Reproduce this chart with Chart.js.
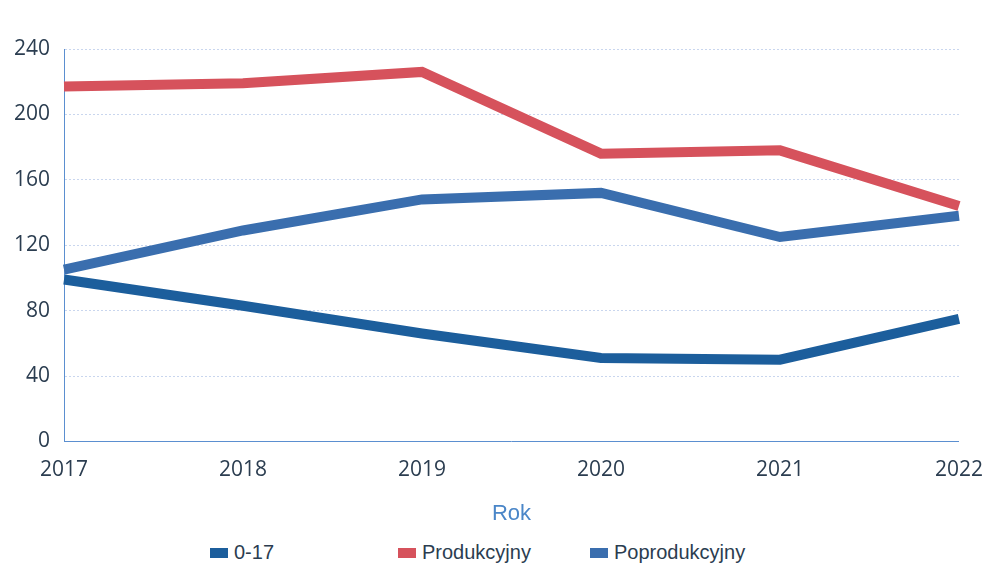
<!DOCTYPE html>
<html>
<head>
<meta charset="utf-8">
<script src="https://cdn.jsdelivr.net/npm/chart.js@4.4.0/dist/chart.umd.min.js"></script>
<style>
  body { margin: 0; background: #fff; overflow: hidden; }
  #wrap { position: relative; width: 982px; height: 569px; overflow: hidden; }
  #box { position: absolute; left: 0; top: 0; width: 999px; height: 528px; }
  #legenda { position: absolute; top: 541px; left: 210px; display: flex;
    font-family: "Liberation Sans", Arial, sans-serif; font-size: 20px; color: #2b3d50; }
  #legenda div { display: flex; align-items: center; }
  #legenda span.kw { display: inline-block; width: 18px; height: 10px; margin-right: 6px; }
</style>
</head>
<body>
<div id="wrap">
  <div id="box"><canvas id="wykres"></canvas></div>
  <div id="legenda"></div>
</div>
<script>
// Dane
const lata = ['2017', '2018', '2019', '2020', '2021', '2022'];
const dzieci = [99, 83, 66, 51, 50, 75];
const produkcyjny = [217, 219, 226, 176, 178, 144];
const poprodukcyjny = [105, 129, 148, 152, 125, 138];
const yTicks = [0, 40, 80, 120, 160, 200, 240];

const serie = [
  { label: '0-17', data: dzieci, color: '#1c5e9c' },
  { label: 'Produkcyjny', data: produkcyjny, color: '#d6525c' },
  { label: 'Poprodukcyjny', data: poprodukcyjny, color: '#3a6eae' }
];

new Chart(document.getElementById('wykres'), {
  type: 'line',
  data: {
    labels: lata,
    datasets: serie.map(s => ({
      label: s.label,
      data: s.data,
      borderColor: s.color,
      backgroundColor: s.color,
      borderWidth: 10,
      pointRadius: 0,
      tension: 0,
      fill: false
    }))
  },
  options: {
    responsive: true,
    maintainAspectRatio: false,
    animation: false,
    layout: { padding: { top: 49, left: 0, right: 0, bottom: 0 } },
    plugins: { legend: { display: false }, tooltip: { enabled: false } },
    scales: {
      x: {
        offset: false,
        grid: { display: false, drawTicks: false },
        border: { color: '#5b8fd0', width: 1 },
        ticks: { color: '#2b3d50', font: { family: 'Open Sans', size: 21 }, padding: 16, maxRotation: 0 },
        title: { display: true, text: 'Rok', color: '#4a86c8',
          font: { family: 'Liberation Sans', size: 22 }, padding: { top: 2, bottom: 1 } }
      },
      y: {
        min: 0, max: 240,
        afterBuildTicks: axis => { axis.ticks = yTicks.map(v => ({ value: v })); },
        grid: { color: '#c9d6ee', drawTicks: false },
        border: { color: '#5b8fd0', width: 1, dash: [2, 2] },
        ticks: { color: '#2b3d50', font: { family: 'Open Sans', size: 21 }, padding: 14 }
      }
    }
  }
});

// Legenda
const leg = document.getElementById('legenda');
const szer = [188, 192, 200];
serie.forEach((s, i) => {
  const d = document.createElement('div');
  d.style.width = szer[i] + 'px';
  d.innerHTML = '<span class="kw" style="background:' + s.color + '"></span>' + s.label;
  leg.appendChild(d);
});
</script>
</body>
</html>
